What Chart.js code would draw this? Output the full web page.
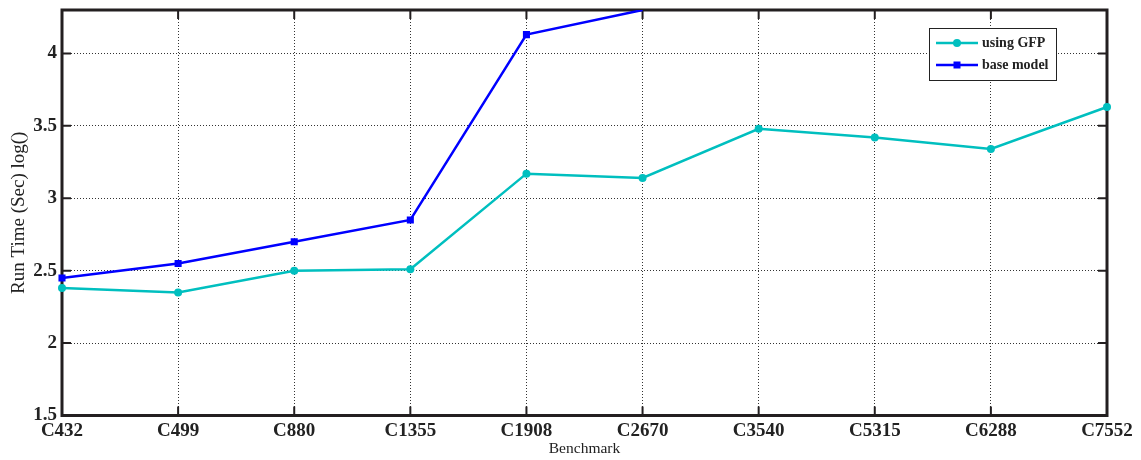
<!DOCTYPE html>
<html>
<head>
<meta charset="utf-8">
<script src="https://cdn.jsdelivr.net/npm/chart.js@4/dist/chart.umd.min.js"></script>
<style>
  html, body { margin: 0; padding: 0; background: #fff; }
  #wrap { width: 1141px; height: 460px; }
</style>
</head>
<body>
<div id="wrap"><canvas id="c" width="1141" height="460"></canvas></div>
<script>
// ---- data ----
const categories = ["C432", "C499", "C880", "C1355", "C1908", "C2670", "C3540", "C5315", "C6288", "C7552"];
const usingGFP = [2.38, 2.35, 2.50, 2.51, 3.17, 3.14, 3.48, 3.42, 3.34, 3.63];
const baseModel = [2.45, 2.55, 2.70, 2.85, 4.13, 4.30, null, null, null, null];
const yTickValues = [1.5, 2, 2.5, 3, 3.5, 4];
const yTickLabels = ["1.5", "2", "2.5", "3", "3.5", "4"];
const seriesNames = ["using GFP", "base model"];
const yMin = 1.5, yMax = 4.3;

const cGFP = '#00BFBF';
const cBase = '#0000FF';
const frameColor = '#231f20';

const framePlugin = {
  id: 'frame',
  beforeDatasetsDraw(chart) {
    const { ctx, chartArea: a, scales } = chart;
    ctx.save();
    ctx.strokeStyle = frameColor;
    ctx.lineWidth = 2;
    const tl = 9;
    ctx.beginPath();
    categories.forEach((c, i) => {
      const x = scales.x.getPixelForValue(i);
      ctx.moveTo(x, a.bottom); ctx.lineTo(x, a.bottom - tl);
      ctx.moveTo(x, a.top); ctx.lineTo(x, a.top + tl);
    });
    yTickValues.forEach(v => {
      const y = scales.y.getPixelForValue(v);
      ctx.moveTo(a.left, y); ctx.lineTo(a.left + tl, y);
      ctx.moveTo(a.right, y); ctx.lineTo(a.right - tl, y);
    });
    ctx.stroke();
    ctx.lineWidth = 3;
    ctx.strokeRect(a.left, a.top, a.right - a.left, a.bottom - a.top);
    ctx.restore();
  },
  afterDraw(chart) {
    const { ctx, chartArea: a } = chart;
    const bw = 127, bh = 52;
    const bx = a.right - 51 - bw, by = a.top + 18;
    ctx.save();
    ctx.fillStyle = '#fff';
    ctx.fillRect(bx, by, bw, bh);
    ctx.strokeStyle = '#222';
    ctx.lineWidth = 1;
    ctx.strokeRect(bx + 0.5, by + 0.5, bw, bh);
    const items = [
      { name: seriesNames[0], color: cGFP, style: 'circle' },
      { name: seriesNames[1], color: cBase, style: 'rect' }
    ];
    items.forEach((it, i) => {
      const y = by + 15 + i * 22;
      ctx.strokeStyle = it.color;
      ctx.lineWidth = 2.5;
      ctx.beginPath();
      ctx.moveTo(bx + 7, y); ctx.lineTo(bx + 49, y);
      ctx.stroke();
      ctx.fillStyle = it.color;
      if (it.style === 'circle') {
        ctx.beginPath(); ctx.arc(bx + 28, y, 4, 0, Math.PI * 2); ctx.fill();
      } else {
        ctx.fillRect(bx + 24.5, y - 3.5, 7, 7);
      }
      ctx.fillStyle = '#222';
      ctx.font = 'bold 14px "Liberation Serif", "Times New Roman", serif';
      ctx.textBaseline = 'middle';
      ctx.textAlign = 'left';
      ctx.fillText(it.name, bx + 53, y);
    });
    ctx.restore();
  }
};

new Chart(document.getElementById('c'), {
  type: 'line',
  data: {
    labels: categories,
    datasets: [
      {
        label: seriesNames[0], data: usingGFP,
        borderColor: cGFP, backgroundColor: cGFP, borderWidth: 2.5,
        pointStyle: 'circle', pointRadius: 4, pointBorderWidth: 0,
        tension: 0, clip: { left: 8, top: 0, right: 8, bottom: 8 }
      },
      {
        label: seriesNames[1], data: baseModel,
        borderColor: cBase, backgroundColor: cBase, borderWidth: 2.5,
        pointStyle: 'rect', pointBorderWidth: 0,
        pointRadius: ctx => (ctx.raw != null && ctx.raw >= yMax) ? 0 : 5,
        tension: 0, spanGaps: false, clip: { left: 8, top: 0, right: 8, bottom: 8 }
      }
    ]
  },
  options: {
    responsive: false,
    animation: false,
    devicePixelRatio: 1,
    layout: { padding: { top: 10, right: 34, bottom: 0, left: 0 } },
    plugins: { legend: { display: false }, tooltip: { enabled: false } },
    scales: {
      x: {
        type: 'category',
        offset: false,
        grid: { display: true, color: '#333', lineWidth: 1, drawTicks: false },
        border: { display: false, dash: [1, 2] },
        ticks: {
          color: '#222', padding: 4, maxRotation: 0, autoSkip: false,
          font: { family: '"Liberation Serif", "Times New Roman", serif', size: 19, weight: 'bold' }
        },
        title: {
          display: true, text: 'Benchmark', color: '#222',
          font: { family: '"Liberation Serif", "Times New Roman", serif', size: 15.5 },
          padding: { top: 0, bottom: 2 }
        },
        afterFit: s => { s.height = 44.5; s.paddingLeft = 0; s.paddingRight = 0; }
      },
      y: {
        min: yMin, max: yMax,
        grid: { display: true, color: '#333', lineWidth: 1, drawTicks: false },
        border: { display: false, dash: [1, 2] },
        afterBuildTicks: s => { s.ticks = yTickValues.map(v => ({ value: v })); },
        ticks: {
          color: '#222', padding: 5,
          font: { family: '"Liberation Serif", "Times New Roman", serif', size: 19, weight: 'bold' },
          callback: v => { const i = yTickValues.indexOf(v); return i >= 0 ? yTickLabels[i] : ''; }
        },
        title: {
          display: true, text: 'Run Time (Sec) log()', color: '#222',
          font: { family: '"Liberation Serif", "Times New Roman", serif', size: 19 },
          padding: { top: 8, bottom: 0 }
        },
        afterFit: s => { s.width = 62; s.paddingTop = 0; s.paddingBottom = 0; }
      }
    }
  },
  plugins: [framePlugin]
});
</script>
</body>
</html>
